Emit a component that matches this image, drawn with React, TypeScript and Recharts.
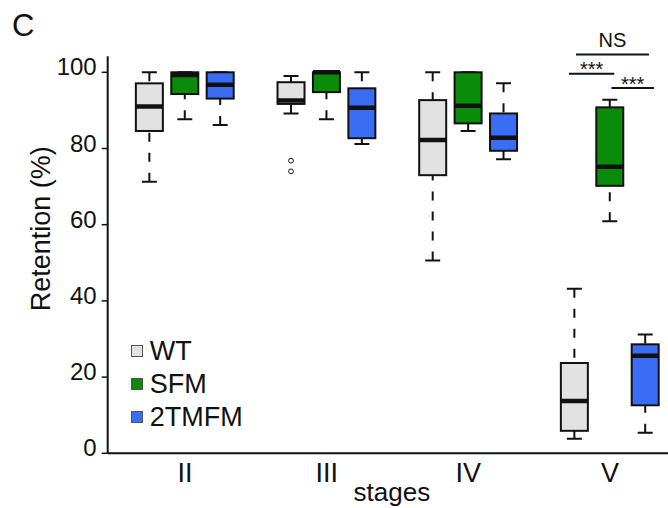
import React from 'react';
import { ComposedChart, Bar, Cell, XAxis, YAxis, ReferenceLine, Legend } from 'recharts';

const FONT = '"Liberation Sans", Arial, Helvetica, sans-serif';

const STAGES = ['II', 'III', 'IV', 'V'];
const GROUPS = ['WT', 'SFM', '2TMFM'];
const COLORS = ['#e2e2e2', '#0a8c0a', '#3a6cf4'];

// box statistics per stage: [min, q1, median, q3, max]
const WT_BOXES = [
  [71.3, 84.6, 91.0, 97.1, 100],
  [89.2, 91.7, 92.6, 97.4, 99.0],
  [50.6, 73.0, 82.2, 92.7, 100],
  [3.8, 5.9, 13.7, 23.7, 43.2],
];
const SFM_BOXES = [
  [87.7, 94.3, 99.3, 100, 100],
  [87.7, 94.8, 100, 100, 100],
  [84.6, 86.6, 91.2, 100, 100],
  [60.9, 70.2, 75.2, 90.8, 92.8],
];
const TM_BOXES = [
  [86.2, 93.1, 96.7, 100, 100],
  [81.2, 82.7, 90.7, 95.8, 100],
  [77.2, 79.4, 82.8, 89.2, 97.1],
  [5.4, 12.6, 25.6, 28.6, 31.2],
];
const WT_OUTLIERS = [[], [76.8, 74.0], [], []];

const Y_TICKS = [0, 20, 40, 60, 80, 100];
const X_TICKS = [1, 2, 3, 4];

// significance brackets (x in stage units, level in %)
const COMPARISONS = [
  { x1: 3.76, x2: 4.275, level: 104.7, label: 'NS', size: 20, gap: 7 },
  { x1: 3.71, x2: 4.03, level: 99.6, label: '***', size: 20, gap: -2 },
  { x1: 4.01, x2: 4.31, level: 95.9, label: '***', size: 20, gap: -3 },
];

const SERIES = [WT_BOXES, SFM_BOXES, TM_BOXES];
const GROUP_OFFSET = [-0.25, 0, 0.25];

const rows = STAGES.flatMap((stage, si) =>
  SERIES.map((boxes, gi) => ({
    x: si + 1 + GROUP_OFFSET[gi],
    stage,
    group: GROUPS[gi],
    stats: boxes[si],
    range: [boxes[si][0], boxes[si][4]],
    outliers: gi === 0 ? WT_OUTLIERS[si] : [],
  }))
);

const BoxShape = (props: any) => {
  const { x, y, width, height, payload, fill } = props;
  const [mn, q1, md, q3, mx] = payload.stats;
  const k = height / (mx - mn);
  const py = (v: number) => y + (mx - v) * k;
  const cx = x + width / 2;
  const cap = 7.5;
  return (
    <g>
      <line x1={cx} x2={cx} y1={py(mx)} y2={py(q3)} stroke="#111" strokeWidth={2} strokeDasharray="9 11" />
      <line x1={cx} x2={cx} y1={py(mn)} y2={py(q1)} stroke="#111" strokeWidth={2} strokeDasharray="9 11" />
      <line x1={cx - cap} x2={cx + cap} y1={py(mx)} y2={py(mx)} stroke="#111" strokeWidth={2} />
      <line x1={cx - cap} x2={cx + cap} y1={py(mn)} y2={py(mn)} stroke="#111" strokeWidth={2} />
      <rect x={x} y={py(q3)} width={width} height={py(q1) - py(q3)} fill={fill} stroke="#111" strokeWidth={2} />
      <line x1={x} x2={x + width} y1={py(md)} y2={py(md)} stroke="#111" strokeWidth={4.5} />
      {(payload.outliers || []).map((o: number, i: number) => (
        <circle key={i} cx={cx} cy={py(o)} r={2.4} fill="none" stroke="#111" strokeWidth={1} />
      ))}
    </g>
  );
};

const LegendContent = () => (
  <div style={{ fontFamily: FONT }}>
    {GROUPS.map((g, i) => (
      <div key={g} style={{ display: 'flex', alignItems: 'center', height: 33.3 }}>
        <span
          style={{
            display: 'inline-block',
            width: 10,
            height: 10,
            background: COLORS[i],
            border: '1px solid #555',
            marginRight: 7,
          }}
        />
        <span style={{ fontSize: 27, lineHeight: '30px', color: '#111' }}>{g}</span>
      </div>
    ))}
  </div>
);

const YTitle = (props: any) => {
  const vb = props.viewBox || { x: 0, y: 56, width: 108, height: 397 };
  const bx = vb.x + 50;
  const cy = vb.y + vb.height / 2 - 26;
  return (
    <text x={bx} y={cy} transform={`rotate(-90 ${bx} ${cy})`} textAnchor="middle" fontSize={27} fill="#111" fontFamily={FONT}>
      Retention (%)
    </text>
  );
};

export default function App() {
  return (
    <div style={{ position: 'absolute', left: 0, top: 0, width: 668, height: 508, overflow: 'hidden', background: '#fff' }}>
      <div style={{ position: 'absolute', left: 12, top: 10, fontSize: 31, lineHeight: '31px', fontFamily: FONT, color: '#111' }}>C</div>
      <ComposedChart
        width={668}
        height={508}
        data={rows}
        margin={{ top: 56.3, right: 0, bottom: 0, left: 0 }}
        style={{ fontFamily: FONT }}
      >
        <XAxis
          dataKey="x"
          type="number"
          domain={[0.4545, 4.4095]}
          ticks={X_TICKS}
          allowDataOverflow
          tickFormatter={(v: number) => STAGES[v - 1] ?? ''}
          height={54.7}
          tickLine={false}
          tickSize={5}
          tickMargin={5}
          axisLine={{ stroke: '#111', strokeWidth: 2 }}
          tick={{ fill: '#111', fontSize: 27 }}
          label={{ value: 'stages', position: 'insideBottom', offset: 7.5, dx: 4, fontSize: 26, fill: '#111' }}
        />
        <YAxis
          type="number"
          domain={[0, 104.2]}
          ticks={Y_TICKS}
          allowDataOverflow
          width={107.7}
          tickSize={6}
          tickMargin={5}
          axisLine={{ stroke: '#111', strokeWidth: 2 }}
          tickLine={{ stroke: '#111', strokeWidth: 1.5 }}
          tick={{ fill: '#111', fontSize: 24, dy: -5.5 }}
          label={{ content: (p: any) => <YTitle {...p} /> }}
        />
        <Bar dataKey="range" barSize={27} isAnimationActive={false} shape={BoxShape}>
          {rows.map((r, i) => (
            <Cell key={i} fill={COLORS[GROUPS.indexOf(r.group)]} />
          ))}
        </Bar>
        {COMPARISONS.map((c, i) => (
          <ReferenceLine
            key={i}
            segment={[{ x: c.x1, y: c.level }, { x: c.x2, y: c.level }]}
            ifOverflow="visible"
            stroke="#111"
            strokeWidth={2}
            label={{ value: c.label, position: 'top', offset: c.gap, fontSize: c.size, fill: '#111' }}
          />
        ))}
        <Legend
          layout="vertical"
          align="center"
          verticalAlign="middle"
          wrapperStyle={{ left: 130.7, top: 334.2, width: 150 }}
          content={() => <LegendContent />}
        />
      </ComposedChart>
    </div>
  );
}
